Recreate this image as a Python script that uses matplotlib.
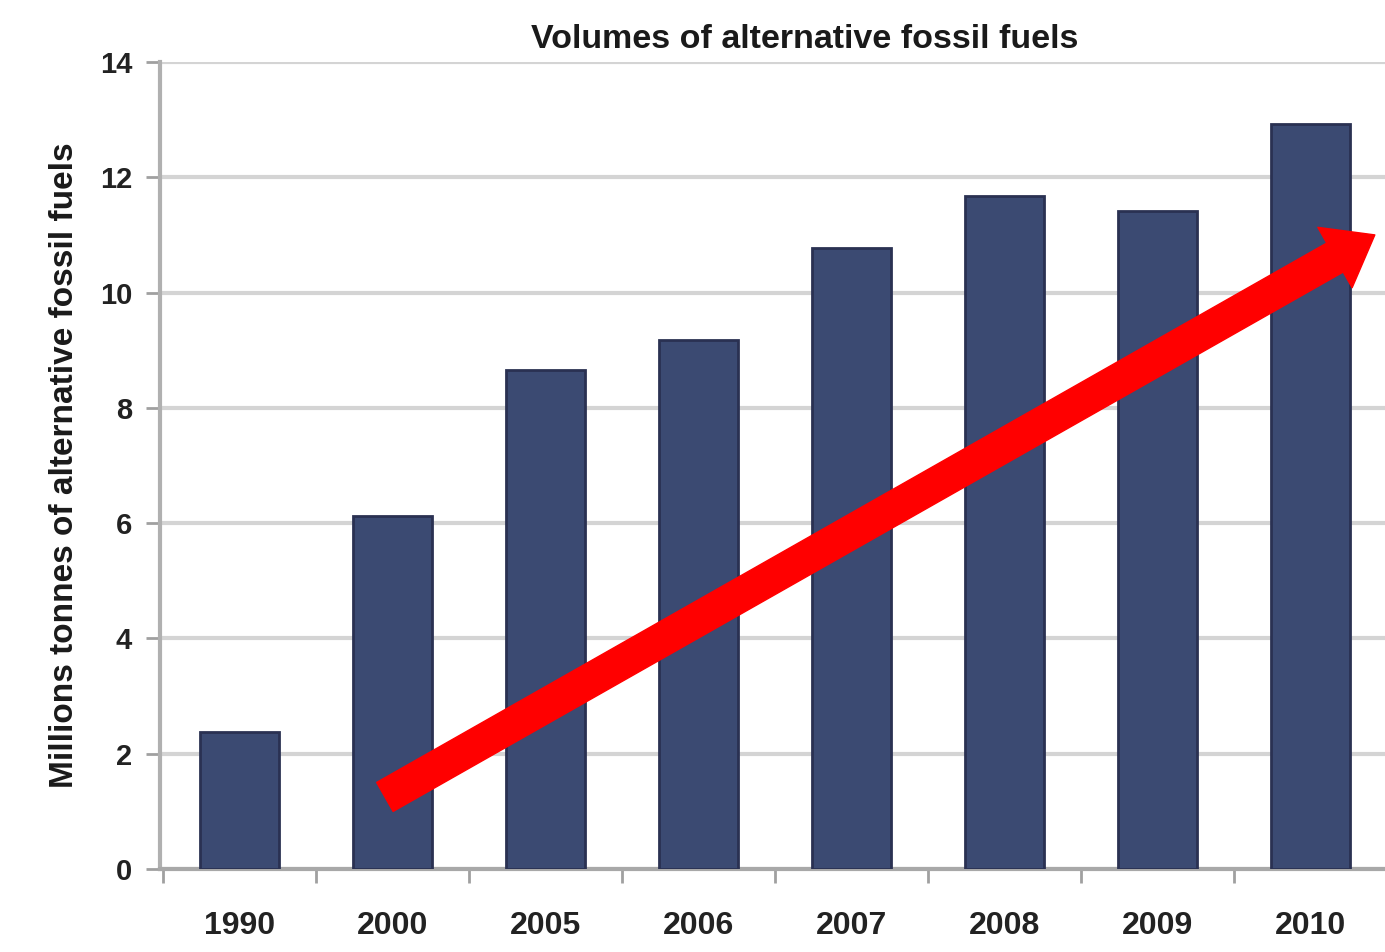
import matplotlib.pyplot as plt
import numpy as np

years = ["1990", "2000", "2005", "2006", "2007", "2008", "2009", "2010"]
volumes = [2.38, 6.13, 8.65, 9.18, 10.78, 11.67, 11.41, 12.93]
y_ticks = [0, 2, 4, 6, 8, 10, 12, 14]

# trend arrow (start / end in data coords)
arrow_start = (0.95, 1.25)
arrow_end = (7.42, 11.0)

plt.rcParams['font.family'] = ['Liberation Sans', 'DejaVu Sans']

fig = plt.figure(figsize=(13.85, 9.52), dpi=100)
ax = fig.add_axes([0.1155, 0.0872, 0.8860, 0.8477])

x = np.arange(len(years))
ax.bar(x, volumes, width=0.52, color="#3b4a72", edgecolor="#2a3152",
       linewidth=2, zorder=3)

ax.set_xlim(-0.52, len(years) - 0.5)
ax.set_ylim(0, 14)
ax.set_yticks(y_ticks)
ax.set_xticks(x)
ax.set_xticklabels(years)
ax.tick_params(axis="x", length=0, pad=30, labelsize=23)
ax.tick_params(axis="y", length=10, width=2, color="#a0a0a0", pad=10, labelsize=21)
for lab in ax.get_xticklabels() + ax.get_yticklabels():
    lab.set_fontweight("bold")
    lab.set_color("#222222")

# minor ticks between categories on the x axis
ax.set_xticks(np.arange(-0.5, len(years), 1.0), minor=True)
ax.tick_params(axis="x", which="minor", length=10, width=2, color="#a0a0a0")

ax.yaxis.grid(True, color="#d4d4d4", linewidth=3, zorder=0)
ax.set_axisbelow(True)
for s in ["top", "right"]:
    ax.spines[s].set_visible(False)
ax.spines["left"].set_color("#b0b0b0")
ax.spines["left"].set_linewidth(3)
ax.spines["bottom"].set_color("#a8a8a8")
ax.spines["bottom"].set_linewidth(3)

ax.set_title("Volumes of alternative fossil fuels", fontsize=24.5,
             fontweight="bold", color="#1a1a1a", pad=10, x=0.525)
ax.set_ylabel("Millions tonnes of alternative fossil fuels", fontsize=24,
              fontweight="bold", color="#1a1a1a", labelpad=14)

ax.annotate("", xy=arrow_end, xytext=arrow_start,
            arrowprops=dict(arrowstyle="simple,head_length=0.33,head_width=0.50,tail_width=0.24",
                            mutation_scale=100, color="#ff0000", shrinkA=0, shrinkB=0),
            zorder=5, annotation_clip=False)

fig.savefig("out.png", dpi=100)
